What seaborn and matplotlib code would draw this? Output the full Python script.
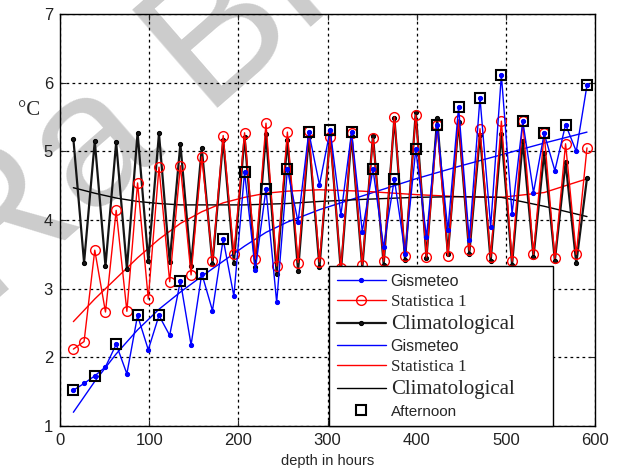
import numpy as np
import pandas as pd
import matplotlib
matplotlib.use('Agg')
import matplotlib.pyplot as plt
import seaborn as sns

# forecast depth (hours)
hours = [15, 27, 39, 51, 63, 75, 87, 99, 111, 123, 135, 147, 159, 171, 183, 195, 207,
         219, 231, 243, 255, 267, 279, 291, 303, 315, 327, 339, 351, 363, 375, 387,
         399, 411, 423, 435, 447, 459, 471, 483, 495, 507, 519, 531, 543, 555, 567,
         579, 591]
gismeteo = [1.52, 1.62, 1.73, 1.86, 2.19, 1.76, 2.61, 2.11, 2.61, 2.32, 3.11, 2.18,
            3.22, 2.68, 3.72, 2.89, 4.70, 3.27, 4.45, 2.80, 4.74, 3.97, 5.28, 4.51,
            5.31, 4.07, 5.28, 3.83, 4.74, 3.60, 4.60, 3.51, 5.03, 3.75, 5.38, 3.85,
            5.64, 3.71, 5.78, 3.90, 6.11, 4.09, 5.44, 4.40, 5.26, 4.72, 5.39, 5.00, 5.96]
statistica = [2.12, 2.23, 3.56, 2.66, 4.14, 2.67, 4.54, 2.85, 4.77, 3.10, 4.79, 3.20,
              4.92, 3.41, 5.23, 3.50, 5.27, 3.43, 5.41, 3.33, 5.28, 3.38, 5.29, 3.39,
              5.21, 3.30, 5.27, 3.35, 5.19, 3.40, 5.50, 3.47, 5.53, 3.46, 5.38, 3.47,
              5.46, 3.56, 5.33, 3.46, 5.44, 3.40, 5.44, 3.50, 5.26, 3.44, 5.11, 3.50, 5.05]
climat = [5.18, 3.38, 5.15, 3.33, 5.13, 3.29, 5.27, 3.41, 5.26, 3.39, 5.11, 3.33,
          5.05, 3.36, 5.17, 3.38, 5.21, 3.32, 5.25, 3.22, 5.16, 3.26, 5.21, 3.31,
          5.25, 3.25, 5.23, 3.30, 5.23, 3.35, 5.49, 3.42, 5.57, 3.45, 5.48, 3.50,
          5.43, 3.51, 5.24, 3.40, 5.25, 3.35, 5.15, 3.46, 4.98, 3.41, 4.84, 3.37, 4.61]

# smoothed trends
trend_hours = [15, 39, 63, 87, 111, 135, 159, 183, 207, 231, 255, 291, 339, 399,
               447, 495, 543, 591]
gismeteo_trend = [1.20, 1.65, 2.05, 2.40, 2.70, 2.95, 3.18, 3.40, 3.62, 3.82, 3.97,
                  4.15, 4.35, 4.60, 4.78, 4.95, 5.12, 5.28]
statistica_trend = [2.52, 2.85, 3.15, 3.45, 3.72, 3.95, 4.12, 4.25, 4.33, 4.39, 4.42,
                    4.44, 4.42, 4.37, 4.34, 4.33, 4.40, 4.60]
climat_trend = [4.47, 4.39, 4.32, 4.27, 4.24, 4.22, 4.22, 4.22, 4.22, 4.23, 4.24,
                4.27, 4.30, 4.33, 4.34, 4.33, 4.20, 4.05]

df = pd.DataFrame({'hours': hours, 'gismeteo': gismeteo,
                   'statistica': statistica, 'climat': climat})
afternoon = df.iloc[::2]
tr = pd.DataFrame({'hours': trend_hours, 'gis': gismeteo_trend,
                   'stat': statistica_trend, 'clim': climat_trend})

sns.set_style('ticks')
plt.rcParams['font.family'] = ['Liberation Sans', 'DejaVu Sans']

fig = plt.figure(figsize=(6.21, 4.72), dpi=100)
ax = fig.add_axes([60/621, 46/472, 535/621, 412/472])
ax.patch.set_alpha(0)

sns.lineplot(data=df, x='hours', y='gismeteo', color='blue', marker='.', ms=6,
             mec='blue', lw=1, label='Gismeteo', ax=ax, zorder=3.2)
sns.lineplot(data=df, x='hours', y='statistica', color='red', marker='o', ms=7,
             mfc='none', mec='red', mew=1, lw=1, label='Statistica 1', ax=ax, zorder=3.1)
sns.lineplot(data=df, x='hours', y='climat', color='#151515', marker='.', ms=6,
             mec='black', lw=1.6, label='Climatological', ax=ax, zorder=3)
sns.lineplot(data=tr, x='hours', y='gis', color='blue', lw=1, label='Gismeteo', ax=ax)
sns.lineplot(data=tr, x='hours', y='stat', color='red', lw=1, label='Statistica 1', ax=ax)
sns.lineplot(data=tr, x='hours', y='clim', color='black', lw=1, label='Climatological', ax=ax)
sns.lineplot(data=afternoon, x='hours', y='gismeteo', linestyle='none', marker='s',
             ms=7.5, mfc='none', mec='black', mew=1.5, label='Afternoon', ax=ax, zorder=3.3)

ax.set_xlim(0, 600)
ax.set_ylim(1, 7)
ax.set_xticks(range(0, 601, 100))
ax.set_yticks(range(1, 8))
ax.grid(True, color='black', linestyle=(0, (2.2, 2.6)), lw=0.9)
for s in ax.spines.values():
    s.set_color('black')
    s.set_linewidth(1)
ax.tick_params(direction='in', top=True, right=True, length=4, labelsize=12,
               labelcolor='#222222', pad=5)
ax.set_xlabel('depth in hours', fontsize=10.5, labelpad=4)
ax.set_ylabel('°C', fontsize=15, rotation=0, family='Liberation Serif', va='center')
ax.yaxis.set_label_coords(-0.058, 0.765)

leg = ax.legend(loc='lower left', bbox_to_anchor=(269/535, 0, 224/535, 166/412),
                mode='expand', borderaxespad=0, fancybox=False, framealpha=1,
                edgecolor='black', fontsize=12, handlelength=2.95, handletextpad=0.3,
                borderpad=0.45, labelspacing=0.3)
leg.get_frame().set_linewidth(1)
leg.set_zorder(10)
styles = [('Liberation Sans', 11.5), ('Liberation Serif', 12.3), ('Liberation Serif', 15),
          ('Liberation Sans', 11.5), ('Liberation Serif', 12.3), ('Liberation Serif', 15),
          ('Liberation Sans', 11)]
for t, (fam, sz) in zip(leg.get_texts(), styles):
    t.set_family(fam)
    t.set_fontsize(sz)

# watermark behind the plot
fig.text(0.2168, 0.757, 'Ra Br', fontsize=136, rotation=41, color='#cccccc',
         ha='center', va='center', zorder=-1)

fig.savefig('out.png', dpi=100)
